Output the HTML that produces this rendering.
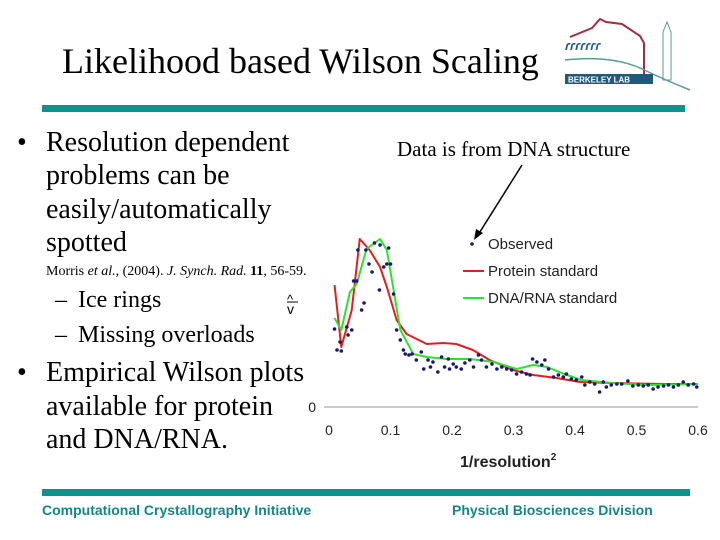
<!DOCTYPE html>
<html><head><meta charset="utf-8"><style>
body{margin:0;width:720px;height:540px;background:#fff;overflow:hidden}
svg{display:block}
.t{font-family:"Liberation Serif",serif;fill:#000}
.s{font-family:"Liberation Sans",sans-serif}
</style></head><body>
<svg id="chart" width="720" height="540" viewBox="0 0 720 540">
<text class="t" x="62" y="73" font-size="36">Likelihood based Wilson Scaling</text>
<g>
<path d="M570 37 L592 28 L600 19 L606 22 L622 24 L640 36 L644 43 L644 78" fill="none" stroke="#a03040" stroke-width="2"/>
<text x="565" y="50" font-size="13" fill="#1e5a8a" font-family="Liberation Sans,sans-serif" font-weight="bold" font-style="italic">ɾɾɾɾɾɾɾ</text>
<path d="M565 60 Q610 55 640 68 Q665 80 690 90" fill="none" stroke="#5a9a9a" stroke-width="1.5"/>
<path d="M663 32 L667 22 L671 32 L671 80 L663 80 Z" fill="none" stroke="#5a9a9a" stroke-width="1"/>
<rect x="565" y="74" width="88" height="10" fill="#1e5a7a"/>
<text x="568" y="82.5" font-size="8" fill="#fff" class="s" font-weight="bold">BERKELEY LAB</text>
</g>
<rect x="42" y="105" width="643" height="7" fill="#119090"/>
<rect x="42" y="489" width="648" height="7" fill="#119090"/>
<g class="t" font-size="28">
<text x="17" y="151">•</text>
<text x="46" y="151">Resolution dependent</text>
<text x="46" y="184">problems can be</text>
<text x="46" y="218">easily/automatically</text>
<text x="46" y="251">spotted</text>
<text x="46" y="275" font-size="14">Morris <tspan font-style="italic">et al.</tspan>, (2004). <tspan font-style="italic">J. Synch. Rad.</tspan> <tspan font-weight="bold">11</tspan>, 56-59.</text>
<text x="55" y="307" font-size="24">–</text>
<text x="78" y="307" font-size="24">Ice rings</text>
<text x="55" y="342" font-size="24">–</text>
<text x="78" y="342" font-size="24">Missing overloads</text>
<text x="17" y="381">•</text>
<text x="46" y="381">Empirical Wilson plots</text>
<text x="46" y="415">available for protein</text>
<text x="46" y="448">and DNA/RNA.</text>
</g>
<text class="s" x="287" y="304" font-size="13" fill="#000">^</text>
<line x1="287" y1="302" x2="298" y2="302" stroke="#000" stroke-width="1"/>
<text class="s" x="287" y="314" font-size="14">v</text>
<text class="t" x="397" y="156" font-size="21">Data is from DNA structure</text>
<line x1="522" y1="165" x2="478" y2="235" stroke="#000" stroke-width="1.5"/>
<path d="M474 240 L476 229 L483 233 Z" fill="#000"/>
<g id="plot"></g>
<g class="s">
<circle cx="472" cy="244" r="1.8" fill="#1a1a6a"/>
<text x="488" y="249" font-size="15" fill="#222">Observed</text>
<line x1="463" y1="271" x2="484" y2="271" stroke="#e02020" stroke-width="2"/>
<text x="488" y="276" font-size="15" fill="#222">Protein standard</text>
<line x1="463" y1="298" x2="484" y2="298" stroke="#30e030" stroke-width="2"/>
<text x="488" y="303" font-size="15" fill="#222">DNA/RNA standard</text>
</g>
<text class="s" x="460" y="467" font-size="16" font-weight="bold" fill="#222">1/resolution<tspan font-size="10" dy="-7">2</tspan></text>
<text class="s" x="42" y="515" font-size="14" font-weight="bold" fill="#108888">Computational Crystallography Initiative</text>
<text class="s" x="452" y="515" font-size="14" font-weight="bold" fill="#108888">Physical Biosciences Division</text>
</svg>
<script>
const xTicks=[0,0.1,0.2,0.3,0.4,0.5,0.6];
const yTicks=[0];
const proteinX=[0.009,0.02,0.037,0.05,0.066,0.083,0.094,0.11,0.126,0.159,0.186,0.207,0.234,0.261,0.299,0.332,0.37,0.408,0.46,0.544,0.6];
const proteinY=[122,60,97,168,157,140,120,87,73,63,64,63,57,47,37,32,29,25,24,23,23];
const dnaX=[0.009,0.02,0.034,0.045,0.061,0.083,0.094,0.105,0.116,0.137,0.159,0.191,0.229,0.268,0.305,0.332,0.355,0.378,0.41,0.46,0.517,0.6];
const dnaY=[89,77,115,123,158,168,157,117,77,53,50,48,48,45,38,42,40,34,27,24,22,23];
const obsX=[0.009,0.013,0.018,0.02,0.029,0.031,0.037,0.04,0.045,0.047,0.053,0.057,0.06,0.065,0.07,0.074,0.082,0.083,0.089,0.094,0.097,0.1,0.105,0.11,0.116,0.121,0.124,0.13,0.135,0.142,0.15,0.154,0.161,0.165,0.169,0.177,0.183,0.188,0.194,0.196,0.202,0.207,0.215,0.221,0.229,0.235,0.243,0.248,0.256,0.265,0.273,0.281,0.289,0.297,0.305,0.313,0.321,0.327,0.331,0.338,0.346,0.351,0.357,0.365,0.373,0.381,0.386,0.394,0.402,0.411,0.416,0.424,0.432,0.44,0.446,0.451,0.459,0.468,0.476,0.486,0.494,0.503,0.511,0.519,0.527,0.535,0.544,0.552,0.56,0.568,0.576,0.584,0.593,0.598];
const obsY=[78,57,65,56,80,72,77,126,126,157,97,104,157,143,135,164,117,162,140,143,159,143,113,77,67,57,53,52,53,47,55,38,47,40,45,35,50,40,48,38,43,40,38,44,47,40,52,47,40,43,38,40,38,37,33,35,33,32,48,45,42,47,38,30,32,30,33,28,27,30,22,25,23,15,25,20,22,23,23,26,21,22,21,22,18,20,21,22,20,22,25,22,23,20];
const NS='http://www.w3.org/2000/svg';
const X0=329,X1=698,Y0=407;
const sx=v=>X0+(v/0.6)*(X1-X0);
const sy=v=>Y0-v;
const g=document.getElementById('plot');
const ax=document.createElementNS(NS,'line');
ax.setAttribute('x1',X0-5);ax.setAttribute('x2',X1);ax.setAttribute('y1',Y0);ax.setAttribute('y2',Y0);
ax.setAttribute('stroke','#999');


g.appendChild(ax);
xTicks.forEach(t=>{const e=document.createElementNS(NS,'text');
e.setAttribute('x',sx(t));e.setAttribute('y',435);e.setAttribute('text-anchor','middle');
e.setAttribute('font-size','14');e.setAttribute('font-family','Liberation Sans,sans-serif');e.setAttribute('fill','#222');
e.textContent=String(t);


g.appendChild(e);});
yTicks.forEach(t=>{const e=document.createElementNS(NS,'text');
e.setAttribute('x',316);e.setAttribute('y',sy(t)+5);e.setAttribute('text-anchor','end');
e.setAttribute('font-size','14');e.setAttribute('font-family','Liberation Sans,sans-serif');e.setAttribute('fill','#222');
e.textContent=String(t);


g.appendChild(e);});
function line(xs,ys,color,name){const p=document.createElementNS(NS,'polyline');
p.setAttribute('points',xs.map((x,i)=>sx(x)+','+sy(ys[i])).join(' '));
p.setAttribute('fill','none');p.setAttribute('stroke',color);p.setAttribute('stroke-width','2');p.setAttribute('stroke-linejoin','round');


g.appendChild(p);}
line(proteinX,proteinY,'#e02020','protein-standard-line');
line(dnaX,dnaY,'#30e030','dna-rna-standard-line');
obsX.forEach((x,i)=>{const c=document.createElementNS(NS,'circle');
c.setAttribute('cx',sx(x));c.setAttribute('cy',sy(obsY[i]));c.setAttribute('r','1.8');c.setAttribute('fill','#1a1a6a');


g.appendChild(c);});
</script>
</body></html>
